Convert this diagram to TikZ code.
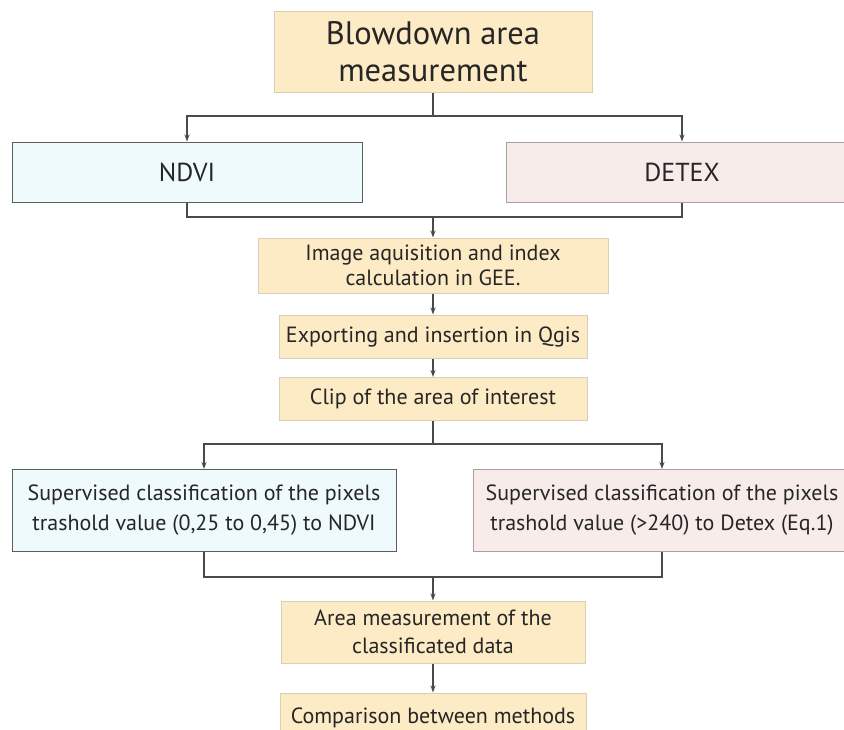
\documentclass[tikz,border=0pt]{standalone}
\usepackage{fontspec}
\setmainfont{PT Sans}
\usetikzlibrary{arrows.meta}
\definecolor{stepfill}{HTML}{FCEBC4}
\definecolor{stepline}{HTML}{D8CFB4}
\definecolor{ndvifill}{HTML}{EEFAFB}
\definecolor{ndviline}{HTML}{5A5E60}
\definecolor{detexfill}{HTML}{F8ECEA}
\definecolor{detexline}{HTML}{A8A0A0}
\definecolor{wire}{HTML}{4A4A4A}
\tikzset{
  x=1pt, y=-1pt,
  box/.style={draw, line width=1pt, inner sep=0pt, align=center, text=black!85},
  stepbox/.style={box, fill=stepfill, draw=stepline},
  ndvibox/.style={box, fill=ndvifill, draw=ndviline},
  detexbox/.style={box, fill=detexfill, draw=detexline},
  small/.style={font=\fontsize{22}{27}\selectfont},
  link/.style={draw=wire, line width=1.3pt},
  flow/.style={link, -{Stealth[length=7pt,width=5pt]}},
}
\begin{document}
\begin{tikzpicture}
\useasboundingbox (0,0) rectangle (844,729);
\clip (0,0) rectangle (844,729);

% process boxes
\node[stepbox, minimum width=318, minimum height=81, font=\fontsize{32.5}{37}\selectfont]
  (top) at (433,51.5) {Blowdown area\\measurement};
\node[ndvibox, minimum width=350, minimum height=60, font=\fontsize{26}{30}\selectfont]
  (ndvi) at (187,172) {NDVI};
\node[detexbox, minimum width=352, minimum height=60, font=\fontsize{26}{30}\selectfont]
  (detex) at (682,172) {DETEX};
\node[stepbox, minimum width=350, minimum height=55, font=\fontsize{22}{25}\selectfont]
  (gee) at (433,265.5) {Image aquisition and index\\calculation in GEE.};
\node[stepbox, small, minimum width=308, minimum height=43]
  (qgis) at (433,336.5) {Exporting and insertion in Qgis};
\node[stepbox, small, minimum width=308, minimum height=43]
  (clip) at (433,399) {Clip of the area of interest};
\node[ndvibox, minimum width=384, minimum height=82, font=\fontsize{22}{30}\selectfont]
  (supn) at (204,510.5) {Supervised classification of the pixels\\trashold value (0,25 to 0,45) to NDVI};
\node[detexbox, minimum width=378, minimum height=82, font=\fontsize{22}{30}\selectfont]
  (supd) at (662,510.5) {Supervised classification of the pixels\\trashold value (>240) to Detex (Eq.1)};
\node[stepbox, minimum width=304, minimum height=62, font=\fontsize{22}{28}\selectfont]
  (area) at (433,632) {Area measurement of the\\classificated data};
\node[stepbox, small, minimum width=306, minimum height=52, text depth=6pt]
  (comp) at (433,719) {Comparison between methods};

% junction points of the branching connectors
\coordinate (s1) at (433,116);
\coordinate (j1) at (433,217);
\coordinate (s2) at (433,444);
\coordinate (j2) at (433,577);

% split after the title
\draw[link] (top.south) -- (s1);
\draw[flow] (s1) -| (ndvi.north);
\draw[flow] (s1) -| (detex.north);
% merge into GEE
\draw[link] (ndvi.south) |- (j1);
\draw[link] (detex.south) |- (j1);
\draw[flow] (j1) -- (gee.north);
\draw[flow] (gee) -- (qgis);
\draw[flow] (qgis) -- (clip);
% split after clipping
\draw[link] (clip.south) -- (s2);
\draw[flow] (s2) -| (supn.north);
\draw[flow] (s2) -| (supd.north);
% merge into area measurement
\draw[link] (supn.south) |- (j2);
\draw[link] (supd.south) |- (j2);
\draw[flow] (j2) -- (area.north);
\draw[flow] (area) -- (comp);
\end{tikzpicture}
\end{document}
